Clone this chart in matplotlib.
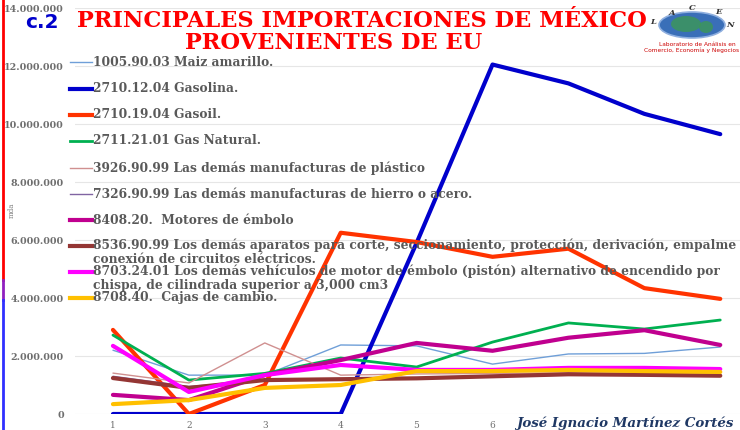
import matplotlib
matplotlib.use('Agg')
import matplotlib.pyplot as plt
from matplotlib.lines import Line2D
from matplotlib.patches import Ellipse
from matplotlib.ticker import FuncFormatter

plt.rcParams['font.family'] = ['DejaVu Serif']

# periodos (eje x) y valores en miles de dólares (mda)
periods = [1, 2, 3, 4, 5, 6, 7, 8, 9]
tick_labels = ['1', '2', '3', '4', '5', '6']

maiz = [2200000, 1340000, 1340000, 2380000, 2350000, 1720000, 2070000, 2090000, 2310000]
gasolina = [0, 0, 0, 0, 5900000, 12050000, 11400000, 10350000, 9650000]
gasoil = [2900000, 0, 1000000, 6250000, 5930000, 5420000, 5700000, 4340000, 3970000]
gas_natural = [2720000, 1170000, 1400000, 1930000, 1620000, 2480000, 3140000, 2930000, 3240000]
plastico = [1410000, 1070000, 2450000, 1340000, 1380000, 1400000, 1420000, 1400000, 1380000]
hierro = [1300000, 950000, 1150000, 1200000, 1250000, 1300000, 1340000, 1340000, 1300000]
motores = [660000, 480000, 1340000, 1860000, 2450000, 2180000, 2630000, 2890000, 2380000]
aparatos = [1240000, 900000, 1170000, 1200000, 1230000, 1300000, 1370000, 1350000, 1320000]
vehiculos = [2350000, 760000, 1340000, 1690000, 1520000, 1520000, 1590000, 1590000, 1550000]
cajas = [340000, 480000, 900000, 1000000, 1480000, 1480000, 1520000, 1480000, 1450000]

labels = [
    '1005.90.03 Maiz amarillo.',
    '2710.12.04 Gasolina.',
    '2710.19.04 Gasoil.',
    '2711.21.01 Gas Natural.',
    '3926.90.99 Las demás manufacturas de plástico',
    '7326.90.99 Las demás manufacturas de hierro o acero.',
    '8408.20.  Motores de émbolo',
    '8536.90.99 Los demás aparatos para corte, seccionamiento, protección, derivación, empalme\nconexión de circuitos eléctricos.',
    '8703.24.01 Los demás vehículos de motor de émbolo (pistón) alternativo de encendido por\nchispa, de cilindrada superior a 3,000 cm3',
    '8708.40.  Cajas de cambio.',
]
series = [maiz, gasolina, gasoil, gas_natural, plastico, hierro, motores, aparatos, vehiculos, cajas]
colors = ['#6F9FD8', '#0000CC', '#FF3300', '#00B050', '#D09090',
          '#8064A2', '#C0008F', '#943634', '#FF00FF', '#FFC000']
widths = [1, 3, 3, 2, 1, 1, 3, 3, 3, 3]

fig = plt.figure(figsize=(7.4, 4.3), dpi=100, facecolor='white')
ax = fig.add_axes([75 / 740, 16 / 430, 665 / 740, 406 / 430])

for vals, c, w in zip(series, colors, widths):
    ax.plot(periods, vals, color=c, lw=w, solid_capstyle='round', solid_joinstyle='round')

ax.set_xlim(0.5, 9.26)
ax.set_ylim(0, 14000000)
ax.set_yticks(range(0, 14000001, 2000000))
ax.yaxis.set_major_formatter(FuncFormatter(lambda v, p: '{:,.0f}'.format(v).replace(',', '.')))
ax.set_xticks(periods[:6])
ax.set_xticklabels(tick_labels)
ax.grid(axis='y', color='#E6E6E6', lw=0.8)
ax.set_axisbelow(True)
for s in ax.spines.values():
    s.set_visible(False)
ax.tick_params(axis='both', length=0, colors='#6E6E6E')
ax.tick_params(axis='y', pad=8, labelsize=6.8)
ax.tick_params(axis='x', pad=5, labelsize=6.5)
for t in ax.get_yticklabels():
    t.set_fontweight('bold')

# leyenda manual (entradas con paso fijo, como en el original)
rows_px = [62, 89, 115, 141, 168, 194, 220, 246, 272, 298]
for lab, c, w, py in zip(labels, colors, widths, rows_px):
    ya = (414 - py) / 406
    ax.add_line(Line2D([(70 - 75) / 665, (92 - 75) / 665], [ya, ya], transform=ax.transAxes,
                       color=c, lw=w, clip_on=False))
    if '\n' in lab:
        ax.text((93 - 75) / 665, (414 - py + 7.5) / 406, lab, transform=ax.transAxes, ha='left', va='top',
                fontsize=8.8, fontweight='bold', color='#595959', linespacing=1.1)
    else:
        ax.text((93 - 75) / 665, ya, lab, transform=ax.transAxes, ha='left', va='center',
                fontsize=8.8, fontweight='bold', color='#595959')

# títulos
fig.text(362 / 740, 1 - 21 / 430, 'PRINCIPALES IMPORTACIONES DE MÉXICO', ha='center', va='center',
         color='#FF0000', fontsize=16.2, fontweight='bold')
fig.text(334 / 740, 1 - 43 / 430, 'PROVENIENTES DE EU', ha='center', va='center',
         color='#FF0000', fontsize=16.2, fontweight='bold')
fig.text(42 / 740, 1 - 22 / 430, 'c.2', ha='center', va='center', color='#0000CC',
         fontsize=14.5, fontweight='bold', family=['DejaVu Sans'])
fig.text(12 / 740, 1 - 210 / 430, 'mda', rotation=90, ha='center', va='center', color='#7F7F7F', fontsize=5)
fig.text(733 / 740, 1 - 423 / 430, 'José Ignacio Martínez Cortés', ha='right', va='center',
         color='#1F3864', fontsize=9.6, fontweight='bold', style='italic')

# borde izquierdo
fig.add_artist(Line2D([3 / 740, 3 / 740], [1 - 280 / 430, 1], color='#FF0000', lw=2))
fig.add_artist(Line2D([3 / 740, 3 / 740], [1 - 300 / 430, 1 - 280 / 430], color='#9020C0', lw=2))
fig.add_artist(Line2D([3 / 740, 3 / 740], [0, 1 - 300 / 430], color='#3030FF', lw=2))

# logo LACEN
fig.add_artist(Ellipse((692 / 740, 1 - 25 / 430), 66 / 740, 26 / 430, facecolor='#3A6FB8',
                       edgecolor='#8FAFDF', lw=1.2))
fig.add_artist(Ellipse((686 / 740, 1 - 24 / 430), 30 / 740, 16 / 430, facecolor='#3C9A50',
                       edgecolor='none', alpha=0.75))
fig.add_artist(Ellipse((706 / 740, 1 - 27 / 430), 14 / 740, 12 / 430, facecolor='#3C9A50',
                       edgecolor='none', alpha=0.75))
for ch, px, py in [('L', 653, 22), ('A', 672, 13), ('C', 692, 8), ('E', 718, 12), ('N', 730, 25)]:
    fig.text(px / 740, 1 - py / 430, ch, ha='center', va='center', fontsize=6, fontweight='bold',
             style='italic', color='#333333')
fig.text(697 / 740, 1 - 44 / 430, 'Laboratorio de Análisis en', ha='center', va='center',
         fontsize=4.2, color='#CC0000', family=['DejaVu Sans'])
fig.text(692 / 740, 1 - 50 / 430, 'Comercio, Economía y Negocios', ha='center', va='center',
         fontsize=4.2, color='#CC0000', family=['DejaVu Sans'])

fig.savefig('out.png', dpi=100, facecolor='white')
